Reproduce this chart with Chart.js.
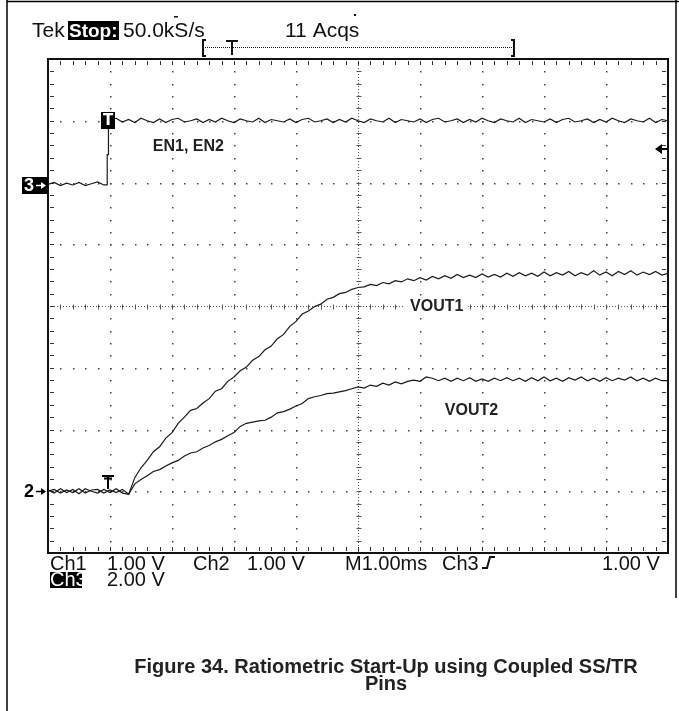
<!DOCTYPE html>
<html>
<head>
<meta charset="utf-8">
<script src="https://cdn.jsdelivr.net/npm/chart.js@4.4.1/dist/chart.umd.min.js"></script>
<style>
  html, body { margin: 0; padding: 0; background: #fff; }
  #scope { display: block; }
</style>
</head>
<body>
<canvas id="scope" width="679" height="711"></canvas>
<script>
// time base in ms (1 ms/div, 10 divisions across the screen)
const timeMs = [
  0.0, 0.1, 0.2, 0.3, 0.4, 0.5, 0.6, 0.7, 0.8, 0.9,
  1.0, 1.1, 1.2, 1.3, 1.4, 1.5, 1.6, 1.7, 1.8, 1.9,
  2.0, 2.1, 2.2, 2.3, 2.4, 2.5, 2.6, 2.7, 2.8, 2.9,
  3.0, 3.1, 3.2, 3.3, 3.4, 3.5, 3.6, 3.7, 3.8, 3.9,
  4.0, 4.1, 4.2, 4.3, 4.4, 4.5, 4.6, 4.7, 4.8, 4.9,
  5.0, 5.1, 5.2, 5.3, 5.4, 5.5, 5.6, 5.7, 5.8, 5.9,
  6.0, 6.1, 6.2, 6.3, 6.4, 6.5, 6.6, 6.7, 6.8, 6.9,
  7.0, 7.1, 7.2, 7.3, 7.4, 7.5, 7.6, 7.7, 7.8, 7.9,
  8.0, 8.1, 8.2, 8.3, 8.4, 8.5, 8.6, 8.7, 8.8, 8.9,
  9.0, 9.1, 9.2, 9.3, 9.4, 9.5, 9.6, 9.7, 9.8, 9.9,
  10.0
];

// traces, in screen divisions from the bottom of the graticule
const enDiv = [
  5.97, 6.00, 5.95, 5.99, 5.96, 6.00, 5.95, 5.98, 6.01, 5.96,
  7.02, 7.04, 6.98, 7.02, 6.97, 7.04, 7.00, 6.97, 7.03, 6.97,
  7.02, 7.04, 6.98, 7.00, 7.03, 6.97, 7.02, 6.98, 7.04, 7.00,
  6.97, 7.03, 7.00, 6.98, 7.04, 6.97, 7.02, 7.00, 6.98, 7.03,
  6.97, 7.02, 7.04, 6.98, 7.00, 7.03, 6.97, 7.02, 6.98, 7.04,
  7.00, 6.97, 7.03, 7.00, 6.98, 7.04, 6.97, 7.02, 7.00, 6.98,
  7.03, 6.97, 7.02, 7.04, 6.98, 7.00, 7.03, 6.97, 7.02, 6.98,
  7.04, 7.00, 6.97, 7.03, 7.00, 6.98, 7.04, 6.97, 7.02, 7.00,
  6.98, 7.03, 6.97, 7.02, 7.04, 6.98, 7.00, 7.03, 6.97, 7.02,
  6.98, 7.04, 7.00, 6.97, 7.03, 7.00, 6.98, 7.04, 6.97, 7.02,
  7.00
];
// the EN edge, between the 0.9 ms and 1.0 ms samples
const enEdgeMs = [0.93, 0.955, 0.955, 0.975, 0.975];
const enEdgeDiv = [5.96, 5.96, 6.45, 6.45, 7.0];

const vout1Div = [
  1.02, 0.97, 1.04, 0.98, 1.03, 0.96, 1.04, 1.00, 0.97, 1.03,
  0.98, 1.04, 0.97, 0.95, 1.22, 1.38, 1.50, 1.64, 1.72, 1.86,
  1.95, 2.10, 2.20, 2.31, 2.34, 2.43, 2.50, 2.62, 2.66, 2.78,
  2.85, 2.95, 3.01, 3.12, 3.18, 3.29, 3.35, 3.47, 3.54, 3.67,
  3.75, 3.87, 3.92, 3.99, 4.03, 4.11, 4.14, 4.20, 4.22, 4.27,
  4.30, 4.31, 4.35, 4.33, 4.38, 4.36, 4.41, 4.39, 4.44, 4.41,
  4.46, 4.42, 4.48, 4.44, 4.49, 4.45, 4.51, 4.46, 4.50, 4.46,
  4.52, 4.47, 4.51, 4.47, 4.53, 4.48, 4.54, 4.49, 4.53, 4.48,
  4.55, 4.49, 4.54, 4.50, 4.56, 4.49, 4.54, 4.50, 4.57, 4.50,
  4.55, 4.49, 4.56, 4.51, 4.57, 4.50, 4.55, 4.51, 4.56, 4.50,
  4.53
];

const vout2Div = [
  1.00, 1.03, 0.97, 1.02, 0.98, 1.04, 0.97, 1.02, 1.03, 0.97,
  1.02, 0.98, 1.03, 0.95, 1.12, 1.19, 1.25, 1.32, 1.35, 1.41,
  1.46, 1.50, 1.57, 1.62, 1.64, 1.70, 1.74, 1.80, 1.84, 1.90,
  1.95, 2.05, 2.10, 2.12, 2.14, 2.15, 2.20, 2.27, 2.29, 2.33,
  2.38, 2.42, 2.50, 2.53, 2.55, 2.58, 2.59, 2.61, 2.63, 2.66,
  2.69, 2.67, 2.72, 2.70, 2.75, 2.72, 2.77, 2.74, 2.78, 2.80,
  2.78, 2.85, 2.83, 2.79, 2.83, 2.78, 2.83, 2.79, 2.84, 2.78,
  2.82, 2.78, 2.83, 2.79, 2.84, 2.79, 2.83, 2.78, 2.84, 2.79,
  2.85, 2.79, 2.83, 2.78, 2.84, 2.80, 2.85, 2.79, 2.83, 2.78,
  2.84, 2.79, 2.83, 2.80, 2.85, 2.79, 2.83, 2.78, 2.83, 2.79,
  2.79
];

// channel ground markers and trigger position (divisions)
const ch3Ground = 5.96;
const ch2Ground = 1.0;
const trigMs = 0.97;
const trigLevelDiv = 6.55;

const traceLabels = ['EN1, EN2', 'VOUT1', 'VOUT2'];
const labelMs = [1.69, 5.84, 6.4];
const labelDiv = [6.59, 4.0, 2.33];

const readoutRow1 = ['Ch1', '1.00 V', 'Ch2', '1.00 V', 'M1.00ms', 'Ch3', '1.00 V'];
const readoutRow1X = [50, 107, 193, 247, 345, 442, 602];

const zip = (xs, ys) => xs.map((t, i) => ({x: t, y: ys[i]}));

const enPoints = zip(timeMs, enDiv).concat(zip(enEdgeMs, enEdgeDiv))
  .sort((a, b) => a.x - b.x);

const scopeGrid = {
  id: 'scopeGrid',
  beforeDatasetsDraw(chart) {
    const {ctx, chartArea: a, scales: {x, y}} = chart;
    ctx.save();
    ctx.fillStyle = '#444';
    // dotted graticule, 5 dots per division
    for (let i = 1; i < 10; i++) {
      if (i === 5) continue;
      const px = Math.round(x.getPixelForValue(i));
      for (let j = 1; j < 40; j++) {
        ctx.fillRect(px, Math.round(y.getPixelForValue(j / 5)), 1.5, 1.5);
      }
    }
    for (let j = 1; j < 8; j++) {
      if (j === 4) continue;
      const py = Math.round(y.getPixelForValue(j));
      for (let i = 1; i < 50; i++) {
        ctx.fillRect(Math.round(x.getPixelForValue(i / 5)), py, 1.5, 1.5);
      }
    }
    // centre crosshair
    const cx = Math.round(x.getPixelForValue(5)) + 0.5;
    const cy = Math.round(y.getPixelForValue(4)) + 0.5;
    ctx.strokeStyle = '#555';
    ctx.lineWidth = 1;
    ctx.setLineDash([1, 2]);
    ctx.beginPath();
    ctx.moveTo(cx, a.top); ctx.lineTo(cx, a.bottom);
    ctx.moveTo(a.left, cy); ctx.lineTo(a.right, cy);
    ctx.stroke();
    ctx.setLineDash([]);
    ctx.beginPath();
    for (let j = 1; j < 40; j++) {
      const py = Math.round(y.getPixelForValue(j / 5)) + 0.5;
      ctx.moveTo(cx - 2, py); ctx.lineTo(cx + 3, py);
    }
    for (let i = 1; i < 50; i++) {
      const px = Math.round(x.getPixelForValue(i / 5)) + 0.5;
      ctx.moveTo(px, cy - 2); ctx.lineTo(px, cy + 3);
    }
    ctx.stroke();
    // border ticks
    ctx.strokeStyle = '#333';
    ctx.beginPath();
    for (let i = 1; i < 50; i++) {
      const px = Math.round(x.getPixelForValue(i / 5)) + 0.5;
      ctx.moveTo(px, a.top + 2); ctx.lineTo(px, a.top + 6);
      ctx.moveTo(px, a.bottom - 6); ctx.lineTo(px, a.bottom - 2);
    }
    for (let j = 1; j < 40; j++) {
      const py = Math.round(y.getPixelForValue(j / 5)) + 0.5;
      ctx.moveTo(a.left + 2, py); ctx.lineTo(a.left + 6, py);
      ctx.moveTo(a.right - 6, py); ctx.lineTo(a.right - 2, py);
    }
    ctx.stroke();
    // frame
    ctx.strokeStyle = '#111';
    ctx.lineWidth = 2;
    ctx.strokeRect(a.left, a.top, a.right - a.left, a.bottom - a.top);
    ctx.restore();
  },
  afterDatasetsDraw(chart) {
    const {ctx, scales: {x, y}} = chart;
    ctx.save();
    // trace labels
    ctx.font = 'bold 16px "Liberation Sans", Arial, sans-serif';
    ctx.textBaseline = 'middle';
    traceLabels.forEach((txt, i) => {
      const lx = x.getPixelForValue(labelMs[i]);
      const ly = y.getPixelForValue(labelDiv[i]);
      const w = ctx.measureText(txt).width;
      ctx.fillStyle = '#fff';
      ctx.fillRect(lx - 5, ly - 10, w + 10, 20);
      ctx.fillStyle = '#222';
      ctx.fillText(txt, lx, ly + 1);
    });
    // trigger marker on EN
    const tx = Math.round(x.getPixelForValue(trigMs));
    const ty = Math.round(y.getPixelForValue(7.0));
    ctx.fillStyle = '#000';
    ctx.fillRect(tx - 7, ty - 9, 14, 17);
    ctx.fillStyle = '#fff';
    ctx.font = 'bold 15px "DejaVu Sans", sans-serif';
    ctx.textAlign = 'center';
    ctx.fillText('T', tx, ty);
    // trigger marker on ch2
    const t2y = Math.round(y.getPixelForValue(ch2Ground));
    ctx.strokeStyle = '#000';
    ctx.lineWidth = 2;
    ctx.beginPath();
    ctx.moveTo(tx - 6, t2y - 15); ctx.lineTo(tx + 6, t2y - 15);
    ctx.moveTo(tx - 4, t2y - 12.5); ctx.lineTo(tx + 4, t2y - 12.5);
    ctx.moveTo(tx, t2y - 15); ctx.lineTo(tx, t2y - 2);
    ctx.stroke();
    ctx.restore();
  },
  afterDraw(chart) {
    const {ctx, chartArea: a, scales: {y}} = chart;
    ctx.save();
    ctx.textBaseline = 'alphabetic';
    // page rules
    ctx.strokeStyle = '#000';
    ctx.lineWidth = 1.5;
    ctx.beginPath();
    ctx.moveTo(7, 0); ctx.lineTo(7, 711);
    ctx.moveTo(7, 1.5); ctx.lineTo(679, 1.5);
    ctx.moveTo(676, 0); ctx.lineTo(676, 598);
    ctx.stroke();

    // header
    ctx.font = '21px "Liberation Sans", Arial, sans-serif';
    ctx.fillStyle = '#111';
    ctx.fillText('Tek', 32, 37);
    ctx.fillStyle = '#000';
    ctx.fillRect(68, 21, 51, 19);
    ctx.fillStyle = '#fff';
    ctx.font = 'bold 19px "Liberation Sans", Arial, sans-serif';
    ctx.fillText('Stop:', 69, 37);
    ctx.fillStyle = '#111';
    ctx.font = '21px "Liberation Sans", Arial, sans-serif';
    ctx.fillText('50.0kS/s', 123, 37);
    ctx.fillText('11 Acqs', 285, 37);
    ctx.fillRect(174, 16, 4, 1.5);
    ctx.fillRect(354, 14, 2, 2);

    // record-window bar
    ctx.strokeStyle = '#111';
    ctx.lineWidth = 2;
    ctx.beginPath();
    ctx.moveTo(206, 40); ctx.lineTo(203, 40); ctx.lineTo(203, 56); ctx.lineTo(206, 56);
    ctx.moveTo(511, 40); ctx.lineTo(514, 40); ctx.lineTo(514, 56); ctx.lineTo(511, 56);
    ctx.moveTo(226, 41); ctx.lineTo(238, 41);
    ctx.moveTo(232, 41); ctx.lineTo(232, 55);
    ctx.stroke();
    ctx.lineWidth = 1;
    ctx.setLineDash([1, 1]);
    ctx.beginPath();
    ctx.moveTo(205, 47.5); ctx.lineTo(512, 47.5);
    ctx.stroke();
    ctx.setLineDash([]);

    // ground markers
    const g3 = Math.round(y.getPixelForValue(ch3Ground));
    ctx.fillStyle = '#000';
    ctx.fillRect(22, g3 - 8, 26, 17);
    ctx.fillStyle = '#fff';
    ctx.font = 'bold 18px "Liberation Sans", Arial, sans-serif';
    ctx.textBaseline = 'middle';
    ctx.fillText('3', 24, g3 + 1);
    const g2 = Math.round(y.getPixelForValue(ch2Ground));
    ctx.fillStyle = '#000';
    ctx.fillText('2', 24, g2 + 1);
    // marker arrows
    [[g3, '#fff'], [g2, '#000']].forEach(([gy, col]) => {
      ctx.strokeStyle = col;
      ctx.fillStyle = col;
      ctx.lineWidth = 1.5;
      ctx.beginPath();
      ctx.moveTo(36, gy + 0.5); ctx.lineTo(42, gy + 0.5);
      ctx.stroke();
      ctx.beginPath();
      ctx.moveTo(46, gy + 0.5); ctx.lineTo(41, gy - 3); ctx.lineTo(41, gy + 4);
      ctx.closePath();
      ctx.fill();
    });

    // trigger level arrow on the right
    const ly = Math.round(y.getPixelForValue(trigLevelDiv));
    ctx.fillStyle = '#000';
    ctx.beginPath();
    ctx.moveTo(a.right - 13, ly);
    ctx.lineTo(a.right - 6, ly - 5);
    ctx.lineTo(a.right - 6, ly + 5);
    ctx.closePath();
    ctx.fill();
    ctx.fillRect(a.right - 7, ly - 1, 6, 2);

    // readouts under the graticule
    ctx.textBaseline = 'alphabetic';
    ctx.font = '20px "Liberation Sans", Arial, sans-serif';
    ctx.fillStyle = '#111';
    readoutRow1.forEach((txt, i) => ctx.fillText(txt, readoutRow1X[i], a.bottom + 17));
    ctx.strokeStyle = '#111';
    ctx.lineWidth = 2;
    ctx.beginPath();
    ctx.moveTo(482, a.bottom + 15); ctx.lineTo(487, a.bottom + 15);
    ctx.lineTo(490, a.bottom + 4); ctx.lineTo(495, a.bottom + 4);
    ctx.stroke();
    ctx.fillStyle = '#000';
    ctx.fillRect(50, a.bottom + 19, 32, 16);
    ctx.fillStyle = '#fff';
    ctx.fillText('Ch3', 50, a.bottom + 33);
    ctx.fillStyle = '#111';
    ctx.fillText('2.00 V', 107, a.bottom + 33);

    // caption
    ctx.font = 'bold 20px "Liberation Sans", Arial, sans-serif';
    ctx.textAlign = 'center';
    ctx.fillStyle = '#222';
    ctx.fillText('Figure 34. Ratiometric Start-Up using Coupled SS/TR', 386, 673);
    ctx.fillText('Pins', 386, 690);
    ctx.restore();
  }
};

const lineStyle = {
  borderColor: '#1a1a1a',
  borderWidth: 1.2,
  pointRadius: 0,
  fill: false,
  tension: 0
};

new Chart(document.getElementById('scope'), {
  type: 'line',
  data: {
    datasets: [
      {label: 'EN1, EN2', data: enPoints, ...lineStyle},
      {label: 'VOUT1', data: zip(timeMs, vout1Div), ...lineStyle},
      {label: 'VOUT2', data: zip(timeMs, vout2Div), ...lineStyle}
    ]
  },
  options: {
    responsive: false,
    animation: false,
    layout: {padding: {left: 48, top: 59, right: 11, bottom: 158}},
    scales: {
      x: {type: 'linear', min: 0, max: 10, display: false},
      y: {type: 'linear', min: 0, max: 8, display: false}
    },
    plugins: {legend: {display: false}, tooltip: {enabled: false}}
  },
  plugins: [scopeGrid]
});
</script>
</body>
</html>
